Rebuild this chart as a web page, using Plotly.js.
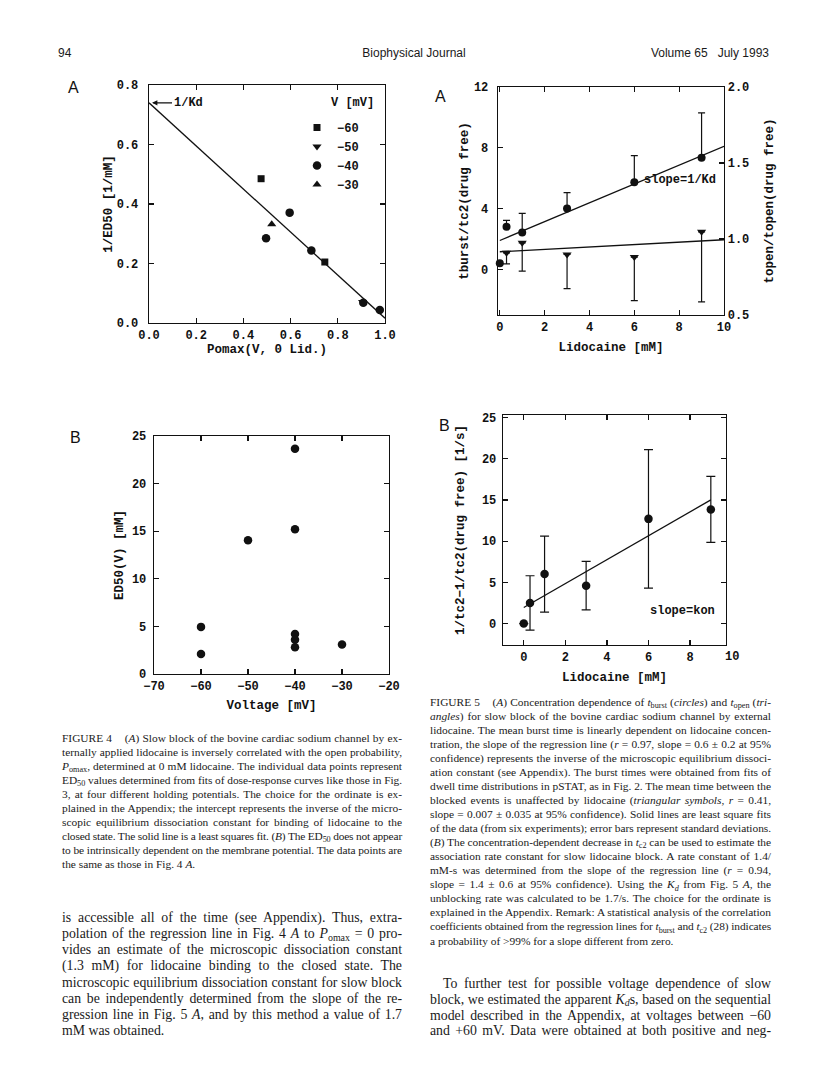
<!DOCTYPE html>
<html><head><meta charset="utf-8">
<script src="https://cdn.plot.ly/plotly-3.0.1.min.js"></script>
<style>
html,body{margin:0;padding:0;background:#fff;}
#page{position:relative;width:816px;height:1089px;overflow:hidden;background:#fff;}
#plot{position:absolute;left:0;top:0;width:816px;height:1089px;}
.ln{position:absolute;white-space:nowrap;font-family:"Liberation Serif","Times New Roman",serif;color:#1a1a1a;line-height:1;}
.ln span{display:inline-block;}
.ln sub{font-size:0.72em;vertical-align:baseline;position:relative;top:0.28em;line-height:0;}
.hdr{position:absolute;font-family:"Liberation Sans",Arial,sans-serif;font-size:12px;color:#1a1a1a;white-space:nowrap;line-height:1;}
</style></head>
<body>
<div id="page"><div id="plot"></div></div>
<script>
// ---------- DATA ----------
// Figure 4 A : 1/ED50 vs Pomax, by holding potential
const pomax_m60 = [0.475, 0.745];
const invED50_m60 = [0.485, 0.205];
const pomax_m50 = [0.905];
const invED50_m50 = [0.071];
const pomax_m40 = [0.496, 0.596, 0.688, 0.908, 0.978];
const invED50_m40 = [0.285, 0.371, 0.244, 0.068, 0.044];
const pomax_m30 = [0.52];
const invED50_m30 = [0.332];
const fit4A_x = [0, 1.0];
const fit4A_y = [0.74, 0.016];
const series4A_names = ['\u221260', '\u221250', '\u221240', '\u221230'];
const ticks4A_x = [0, 0.2, 0.4, 0.6, 0.8, 1.0];
const ticks4A_y = [0, 0.2, 0.4, 0.6, 0.8];

// Figure 4 B : ED50 vs voltage
const voltage = [-60, -60, -50, -40, -40, -40, -40, -40, -30];
const ed50 = [4.95, 2.1, 14.05, 23.65, 15.2, 4.2, 3.6, 2.8, 3.1];
const ticks4B_x = [-70, -60, -50, -40, -30, -20];
const ticks4B_y = [0, 5, 10, 15, 20, 25];

// Figure 5 A : tburst (circles, left axis) and topen (triangles, right axis)
const lido_burst = [0, 0.3, 1, 3, 6, 9];
const tburst_ratio = [0.4, 2.8, 2.43, 4.0, 5.73, 7.35];
const tburst_sd = [0, 0.42, 1.25, 1.05, 1.75, 2.95];
const lido_open = [0.3, 1, 3, 6, 9];
const topen_ratio = [0.909, 0.975, 0.898, 0.881, 1.047];
const topen_sd = [0.072, 0.186, 0.225, 0.287, 0.461];
const fitBurst_x = [0, 10];
const fitBurst_y = [1.9, 8.1];
const fitOpen_x = [0, 10];
const fitOpen_y = [0.916, 0.995];
const ticks5A_x = [0, 2, 4, 6, 8, 10];
const ticks5A_yL = [0, 4, 8, 12];
const ticks5A_yR = [0.5, 1.0, 1.5, 2.0];

// Figure 5 B : 1/tc2 - 1/tc2(drug free) vs lidocaine
const lido_kon = [0, 0.3, 1, 3, 6, 9];
const invtc2 = [0, 2.5, 6.0, 4.6, 12.7, 13.85];
const invtc2_sd = [0, 3.3, 4.6, 2.95, 8.4, 4.0];
const fitKon_x = [0, 9];
const fitKon_y = [1.95, 15.0];
const ticks5B_x = [0, 2, 4, 6, 8];
const ticks5B_y = [0, 5, 10, 15, 20, 25];

// ---------- LAYOUT HELPERS ----------
const W = 816, H = 1089;
const fx = p => p / W, fy = p => 1 - p / H;
const domX = (a, b) => [a / W, b / W];
const domY = (t, b) => [1 - b / H, 1 - t / H];
const INK = '#111';
const mono = '"Liberation Mono","Courier New",monospace';
const tickFont = {family: mono, size: 12, weight: 'bold', color: INK};
const titleFont = {family: mono, size: 12.5, weight: 'bold', color: INK};

function ax(extra) {
  return Object.assign({
    showline: true, linecolor: INK, linewidth: 1.3, mirror: 'ticks',
    ticks: 'inside', ticklen: 5, tickwidth: 1.2, tickcolor: INK,
    showgrid: false, zeroline: false, tickfont: tickFont, fixedrange: true
  }, extra);
}
const zeros = a => a.map(() => 0);
const mk = (symbol, size) => ({symbol: symbol, size: size, color: INK});
const lineStyle = {color: INK, width: 1.3};

// ---------- TRACES ----------
const traces = [
  // 4A
  {x: fit4A_x, y: fit4A_y, mode: 'lines', line: lineStyle, xaxis: 'x', yaxis: 'y', showlegend: false, hoverinfo: 'skip'},
  {x: pomax_m60, y: invED50_m60, mode: 'markers', name: series4A_names[0], marker: mk('square', 7), xaxis: 'x', yaxis: 'y', legendrank: 1, cliponaxis: false},
  {x: pomax_m50, y: invED50_m50, mode: 'markers', name: series4A_names[1], marker: mk('triangle-down', 8), xaxis: 'x', yaxis: 'y', legendrank: 2, cliponaxis: false},
  {x: pomax_m40, y: invED50_m40, mode: 'markers', name: series4A_names[2], marker: mk('circle', 8.5), xaxis: 'x', yaxis: 'y', legendrank: 3, cliponaxis: false},
  {x: pomax_m30, y: invED50_m30, mode: 'markers', name: series4A_names[3], marker: mk('triangle-up', 8), xaxis: 'x', yaxis: 'y', legendrank: 4, cliponaxis: false},
  // 4B
  {x: voltage, y: ed50, mode: 'markers', marker: mk('circle', 8.5), xaxis: 'x2', yaxis: 'y2', showlegend: false, cliponaxis: false},
  // 5A
  {x: fitBurst_x, y: fitBurst_y, mode: 'lines', line: lineStyle, xaxis: 'x3', yaxis: 'y3', showlegend: false},
  {x: lido_burst, y: tburst_ratio, mode: 'markers', marker: mk('circle', 8), xaxis: 'x3', yaxis: 'y3', showlegend: false, cliponaxis: false,
   error_y: {type: 'data', symmetric: false, array: tburst_sd, arrayminus: zeros(tburst_sd), color: INK, thickness: 1.2, width: 3.5}},
  {x: fitOpen_x, y: fitOpen_y, mode: 'lines', line: lineStyle, xaxis: 'x3', yaxis: 'y4', showlegend: false},
  {x: lido_open, y: topen_ratio, mode: 'markers', marker: mk('triangle-down', 8), xaxis: 'x3', yaxis: 'y4', showlegend: false, cliponaxis: false,
   error_y: {type: 'data', symmetric: false, array: zeros(topen_sd), arrayminus: topen_sd, color: INK, thickness: 1.2, width: 3.5}},
  // 5B
  {x: fitKon_x, y: fitKon_y, mode: 'lines', line: lineStyle, xaxis: 'x4', yaxis: 'y5', showlegend: false},
  {x: lido_kon, y: invtc2, mode: 'markers', marker: mk('circle', 8.5), xaxis: 'x4', yaxis: 'y5', showlegend: false, cliponaxis: false,
   error_y: {type: 'data', array: invtc2_sd, color: INK, thickness: 1.2, width: 4.5}}
];

const sans = {family: '"Liberation Sans",Arial,sans-serif', size: 16, color: INK};
function label(t, px, py, font, xanchor) {
  return {text: t, xref: 'paper', yref: 'paper', x: fx(px), y: fy(py), xanchor: xanchor || 'center', yanchor: 'middle', showarrow: false, font: font};
}

const layout = {
  width: W, height: H, margin: {l: 0, r: 0, t: 0, b: 0},
  paper_bgcolor: '#fff', plot_bgcolor: 'rgba(0,0,0,0)',
  showlegend: true,
  legend: {x: fx(297), y: fy(113), xanchor: 'left', yanchor: 'top', bgcolor: 'rgba(0,0,0,0)',
           font: tickFont, tracegroupgap: 0, itemwidth: 30},
  xaxis: ax({domain: domX(149, 385), range: [0, 1.0], tickvals: ticks4A_x, tickformat: '.1f', anchor: 'y',
             title: {text: 'Pomax(V, 0 Lid.)', font: titleFont, standoff: 0}}),
  yaxis: ax({domain: domY(85, 323), range: [0, 0.8], tickvals: ticks4A_y, tickformat: '.1f', anchor: 'x',
             ticklabelstandoff: 7, title: {text: '1/ED50 [1/mM]', font: titleFont, standoff: 1}}),
  xaxis2: ax({domain: domX(154, 389), range: [-70, -20], tickvals: ticks4B_x, anchor: 'y2',
             title: {text: 'Voltage [mV]', font: titleFont, standoff: 7}}),
  yaxis2: ax({domain: domY(436, 674), range: [0, 25], tickvals: ticks4B_y, anchor: 'x2',
             ticklabelstandoff: 4, title: {text: 'ED50(V) [mM]', font: titleFont, standoff: 5}}),
  xaxis3: ax({domain: domX(498, 724), range: [-0.08, 10], tickvals: ticks5A_x, anchor: 'y3',
             title: {text: 'Lidocaine [mM]', font: titleFont, standoff: 8}}),
  yaxis3: ax({domain: domY(87, 315), range: [-3, 12], tickvals: ticks5A_yL, anchor: 'x3', mirror: false,
             ticklabelstandoff: 6, title: {text: 'tburst/tc2(drug free)', font: titleFont, standoff: 2}}),
  yaxis4: ax({domain: domY(87, 315), range: [0.5, 2.0], tickvals: ticks5A_yR, tickformat: '.1f', anchor: 'x3',
             overlaying: 'y3', side: 'right', mirror: false,
             title: {text: 'topen/topen(drug free)', font: titleFont, standoff: 16}}),
  xaxis4: ax({domain: domX(503, 726), range: [-1, 9.73], tickvals: ticks5B_x, anchor: 'y5',
             title: {text: 'Lidocaine [mM]', font: titleFont, standoff: 8}}),
  yaxis5: ax({domain: domY(415, 645), range: [-2.6, 25.3], tickvals: ticks5B_y, anchor: 'x4',
             ticklabelstandoff: 3, title: {text: '1/tc2\u22121/tc2(drug free) [1/s]', font: titleFont, standoff: 14}}),
  annotations: [
    label('A', 73, 87, sans), label('B', 75, 437, sans), label('A', 440, 96, sans), label('B', 445, 425, sans),
    {text: '1/Kd', xref: 'x', yref: 'y', x: 0, y: fit4A_y[0], ax: 39, ay: 0, showarrow: true,
     arrowhead: 2, arrowsize: 0.9, arrowwidth: 1.2, arrowcolor: INK, standoff: 3, font: tickFont},
    label('V [mV]', 352, 103, tickFont),
    label('slope=1/Kd', 718, 180, tickFont, 'right'),
    label('slope=kon', 717, 611, tickFont, 'right'),
    label('10', 731.5, 657, tickFont)
  ]
};

Plotly.newPlot('plot', traces, layout, {displayModeBar: false, staticPlot: true});

// ---------- PAGE TEXT ----------
const page = document.getElementById('page');
function hdr(t, px, py, align) {
  const d = document.createElement('div'); d.className = 'hdr'; d.textContent = t;
  page.appendChild(d);
  const w = d.getBoundingClientRect().width;
  d.style.top = (py - 7) + 'px';
  d.style.left = (align === 'center' ? px - w / 2 : align === 'right' ? px - w : px) + 'px';
}
hdr('94', 58, 54, 'left');
hdr('Biophysical Journal', 414, 54, 'center');
hdr('Volume 65\u00a0\u00a0\u00a0July 1993', 769, 54, 'right');

function placeLines(lines, x, y0, dy, width, size, indent) {
  lines.forEach((html, i) => {
    const d = document.createElement('div');
    d.className = 'ln';
    d.style.fontSize = size + 'px';
    const ind = (indent && i === 0) ? indent : 0;
    d.style.left = (x + ind) + 'px';
    d.style.top = (y0 + i * dy - size * 0.6) + 'px';
    const isLast = html.endsWith('\u0001');
    const s = document.createElement('span'); s.innerHTML = isLast ? html.slice(0, -1) : html; d.appendChild(s);
    page.appendChild(d);
    const target = width - ind;
    const w = s.getBoundingClientRect().width;
    const diff = target - w;
    if (diff < 0) {
      s.style.letterSpacing = (diff / s.textContent.length) + 'px';
    } else if (!isLast) {
      const n = (s.textContent.match(/[ \u00a0]/g) || []).length;
      if (n > 0) s.style.wordSpacing = (diff / n) + 'px';
    }
  });
}
const END = '\u0001';
const cap4 = [
  'FIGURE 4\u00a0\u00a0\u00a0\u00a0(<i>A</i>) Slow block of the bovine cardiac sodium channel by ex-',
  'ternally applied lidocaine is inversely correlated with the open probability,',
  '<i>P</i><sub>omax</sub>, determined at 0 mM lidocaine. The individual data points represent',
  'ED<sub>50</sub> values determined from fits of dose-response curves like those in Fig.',
  '3, at four different holding potentials. The choice for the ordinate is ex-',
  'plained in the Appendix; the intercept represents the inverse of the micro-',
  'scopic equilibrium dissociation constant for binding of lidocaine to the',
  'closed state. The solid line is a least squares fit. (<i>B</i>) The ED<sub>50</sub> does not appear',
  'to be intrinsically dependent on the membrane potential. The data points are',
  'the same as those in Fig. 4 <i>A</i>.' + END
];
const body4 = [
  'is accessible all of the time (see Appendix). Thus, extra-',
  'polation of the regression line in Fig. 4 <i>A</i> to <i>P</i><sub>omax</sub> = 0 pro-',
  'vides an estimate of the microscopic dissociation constant',
  '(1.3 mM) for lidocaine binding to the closed state. The',
  'microscopic equilibrium dissociation constant for slow block',
  'can be independently determined from the slope of the re-',
  'gression line in Fig. 5 <i>A</i>, and by this method a value of 1.7',
  'mM was obtained.' + END
];
const cap5 = [
  'FIGURE 5\u00a0\u00a0\u00a0\u00a0(<i>A</i>) Concentration dependence of <i>t</i><sub>burst</sub> (<i>circles</i>) and <i>t</i><sub>open</sub> (<i>tri-</i>',
  '<i>angles</i>) for slow block of the bovine cardiac sodium channel by external',
  'lidocaine. The mean burst time is linearly dependent on lidocaine concen-',
  'tration, the slope of the regression line (<i>r</i> = 0.97, slope = 0.6 \u00b1 0.2 at 95%',
  'confidence) represents the inverse of the microscopic equilibrium dissoci-',
  'ation constant (see Appendix). The burst times were obtained from fits of',
  'dwell time distributions in pSTAT, as in Fig. 2. The mean time between the',
  'blocked events is unaffected by lidocaine (<i>triangular symbols</i>, <i>r</i> = 0.41,',
  'slope = 0.007 \u00b1 0.035 at 95% confidence). Solid lines are least square fits',
  'of the data (from six experiments); error bars represent standard deviations.',
  '(<i>B</i>) The concentration-dependent decrease in <i>t</i><sub>c2</sub> can be used to estimate the',
  'association rate constant for slow lidocaine block. A rate constant of 1.4/',
  'mM-s was determined from the slope of the regression line (<i>r</i> = 0.94,',
  'slope = 1.4 \u00b1 0.6 at 95% confidence). Using the <i>K<sub>d</sub></i> from Fig. 5 <i>A</i>, the',
  'unblocking rate was calculated to be 1.7/s. The choice for the ordinate is',
  'explained in the Appendix. Remark: A statistical analysis of the correlation',
  'coefficients obtained from the regression lines for <i>t</i><sub>burst</sub> and <i>t</i><sub>c2</sub> (28) indicates',
  'a probability of &gt;99% for a slope different from zero.' + END
];
const body5 = [
  'To further test for possible voltage dependence of slow',
  'block, we estimated the apparent <i>K<sub>d</sub></i>s, based on the sequential',
  'model described in the Appendix, at voltages between \u221260',
  'and +60 mV. Data were obtained at both positive and neg-'
];
placeLines(cap4, 62, 740, 14.0, 340, 11.4, 0);
placeLines(body4, 62, 919, 16.2, 340, 13.8, 0);
placeLines(cap5, 430, 703.5, 14.05, 341, 11.4, 0);
placeLines(body5, 430, 985, 15.9, 341, 13.8, 13);
</script>
</body></html>
